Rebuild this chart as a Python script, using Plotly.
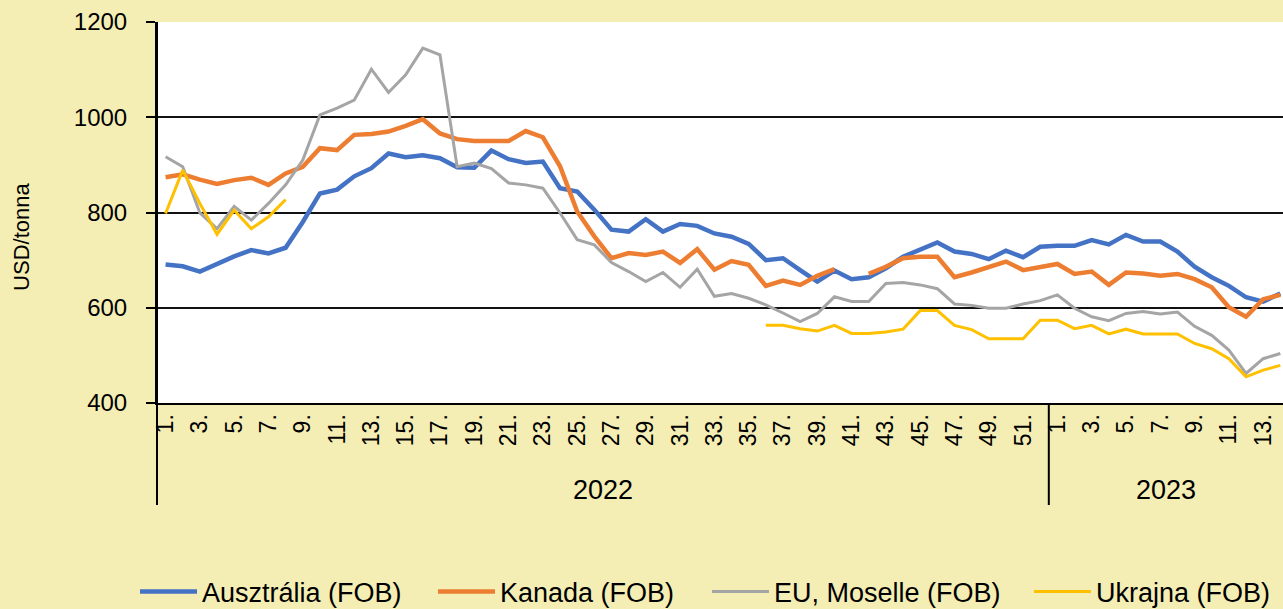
import plotly.graph_objects as go

# ---- data ----
weeks_2022 = list(range(1, 53))
weeks_2023 = list(range(1, 15))
year_labels = ["2022", "2023"]

ausztralia = [691, 687, 676, 693, 708, 721, 714, 726, 780, 840, 848,
              876, 893, 924, 916, 920, 914, 895, 894, 930, 912, 904,
              907, 851, 844, 806, 764, 760, 786, 760, 776, 772, 756,
              749, 734, 700, 704, 679, 655, 678, 660, 664, 683, 707,
              722, 737, 718, 713, 702, 720, 706, 728,
              730, 730, 742, 733, 753, 739, 739, 718, 686, 664, 646, 622, 613, 630]

kanada = [874, 880, 869, 860, 868, 873, 858, 882, 896, 935, 931,
          963, 965, 970, 982, 996, 966, 954, 950, 949, 950, 971,
          958, 897, 802, 750, 704, 715, 711, 718, 694, 723, 680,
          698, 690, 646, 657, 648, 667, 681, None, 671, 686, 704,
          707, 707, 664, 674, 685, 697, 679, 686,
          692, 671, 676, 648, 674, 672, 667, 671, 660, 643, 601, 581, 618, 627]

eu_moselle = [917, 896, 799, 766, 813, 784, 819, 858, 910, 1005, 1019,
              1036, 1101, 1052, 1089, 1145, 1131, 896, 904, 892, 862, 858,
              851, 799, 743, 732, 695, 676, 655, 674, 643, 681, 624,
              630, 620, 606, 589, 571, 588, 623, 613, 613, 651, 653,
              648, 640, 608, 605, 599, 599, 608, 615,
              627, 599, 581, 573, 588, 592, 587, 591, 561, 542, 511, 462, 493, 504]

ukrajna = ([798, 889, 819, 754, 805, 766, 791, 827] + [None] * 27 +
           [563, 563, 556, 551, 563, 546, 546, 549, 555,
            594, 594, 563, 554, 535, 535, 535, 574,
            574, 556, 563, 545, 555, 545, 545, 545, 525, 514, 493, 455, 469, 479])

series_names = ["Ausztrália (FOB)", "Kanada (FOB)", "EU, Moselle (FOB)", "Ukrajna (FOB)"]
y_ticks = [400, 600, 800, 1000, 1200]

# ---- build ----
all_weeks = weeks_2022 + weeks_2023
idx = list(range(len(all_weeks)))
tickvals = [i for i, w in zip(idx, all_weeks) if w % 2 == 1]
ticktext = [f"{all_weeks[i]}." for i in tickvals]

BG = "#F4EEB5"
FONT = "Liberation Sans, Arial, sans-serif"
PL, PW = 157, 1126

styles = [("#4472C4", 4.5), ("#ED7D31", 4.5), ("#A5A5A5", 3), ("#FFC000", 3)]
legend_left_px = [140, 438, 712, 1034]
legend_ids = ["legend", "legend2", "legend3", "legend4"]

fig = go.Figure()
for name, vals, (col, wd), lid in zip(series_names, [ausztralia, kanada, eu_moselle, ukrajna],
                                      styles, legend_ids):
    fig.add_trace(go.Scatter(x=idx, y=vals, mode="lines", name=name, legend=lid,
                             line=dict(color=col, width=wd), connectgaps=False))

legend_layout = {}
for lid, px in zip(legend_ids, legend_left_px):
    legend_layout[lid] = dict(orientation="h", x=(px - 5 - PL) / PW, xanchor="left",
                              y=-0.496, yanchor="middle", font=dict(size=27),
                              bgcolor="rgba(0,0,0,0)", itemwidth=57)

n22 = len(weeks_2022)
x_end = -0.5 + PW / 17.15
fig.update_layout(
    width=1283, height=609,
    paper_bgcolor=BG, plot_bgcolor="white",
    margin=dict(l=PL, r=0, t=22, b=206, autoexpand=False),
    font=dict(family=FONT, size=24, color="black"),
    showlegend=True,
    xaxis=dict(range=[-0.5, x_end], tickmode="array", tickvals=tickvals, ticktext=ticktext,
               tickangle=-90, showgrid=False, zeroline=False, showline=True,
               linecolor="black", linewidth=2, ticks="", tickfont=dict(size=23)),
    yaxis=dict(range=[400, 1200], tickvals=y_ticks, showgrid=True, gridcolor="#111",
               gridwidth=2, zeroline=False, showline=True, linecolor="black", linewidth=2,
               ticks="outside", ticklen=9, tickcolor="black", tickwidth=2,
               ticklabelstandoff=14, tickfont=dict(size=24)),
    **legend_layout,
)

ybot = -(505 - 403) / 381
fig.add_shape(type="line", xref="paper", yref="paper", x0=0, x1=0, y0=ybot, y1=1,
              line=dict(color="black", width=2))
fig.add_shape(type="line", xref="x", yref="paper", x0=n22 - 0.5, x1=n22 - 0.5, y0=ybot, y1=0,
              line=dict(color="black", width=2))

fig.add_annotation(x=(n22 - 1) / 2, y=-0.228, xref="x", yref="paper", text=year_labels[0],
                   showarrow=False, font=dict(size=27), yanchor="middle")
fig.add_annotation(x=(n22 - 0.5 + x_end) / 2, y=-0.228, xref="x", yref="paper", text=year_labels[1],
                   showarrow=False, font=dict(size=27), yanchor="middle")
fig.add_annotation(x=(22 - PL) / PW, xref="paper", y=0.436, yref="paper", text="USD/tonna",
                   textangle=-90, showarrow=False, font=dict(size=22),
                   xanchor="center", yanchor="middle")

fig.write_html("out.html", config={"displayModeBar": False},
               post_script="document.body.style.margin='0';document.body.style.background='%s';" % BG)
